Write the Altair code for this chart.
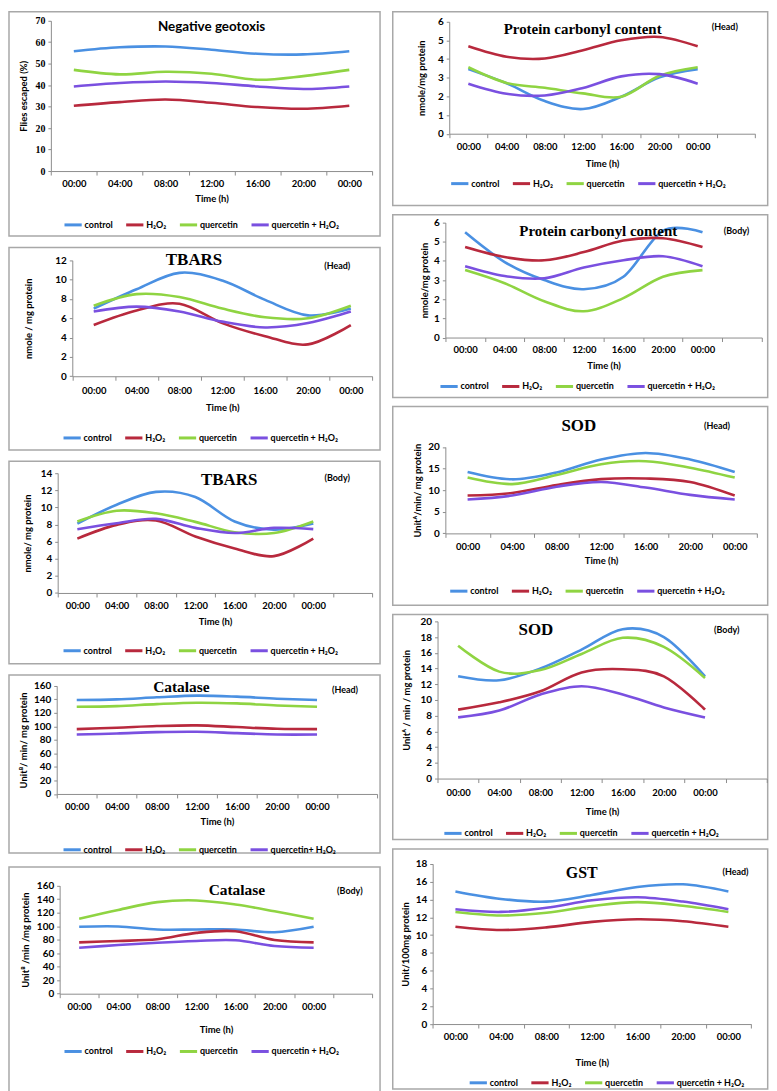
import altair as alt
import pandas as pd

# ---------------- data ----------------
TIME_LABELS = ["00:00", "04:00", "08:00", "12:00", "16:00", "20:00", "00:00"]
SERIES = ["control", "H\u2082O\u2082", "quercetin", "quercetin + H\u2082O\u2082"]
SERIES_CAT_HEAD = ["control", "H\u2082O\u2082", "quercetin", "quercetin+ H\u2082O\u2082"]
COLORS = ["#4a90e2", "#b8293d", "#8fd442", "#7a50e0"]

GEO_CONTROL = [55.8, 57.6, 58.0, 56.5, 54.6, 54.3, 55.8]
GEO_H2O2 = [30.4, 32.1, 33.3, 31.8, 29.8, 29.0, 30.4]
GEO_QUER = [47.1, 45.0, 46.2, 45.3, 42.5, 44.2, 47.1]
GEO_QH = [39.4, 41.0, 41.7, 41.0, 39.4, 38.2, 39.4]

TBH_CONTROL = [7.0, 9.0, 10.7, 9.9, 7.9, 6.3, 7.0]
TBH_H2O2 = [5.3, 6.8, 7.5, 5.5, 4.15, 3.3, 5.3]
TBH_QUER = [7.3, 8.5, 8.2, 7.0, 6.1, 6.0, 7.3]
TBH_QH = [6.7, 7.2, 6.7, 5.65, 5.05, 5.5, 6.7]

TBB_CONTROL = [8.1, 10.3, 11.8, 11.2, 8.35, 7.4, 8.1]
TBB_H2O2 = [6.35, 7.95, 8.45, 6.6, 5.2, 4.3, 6.35]
TBB_QUER = [8.35, 9.6, 9.3, 8.3, 7.1, 7.0, 8.35]
TBB_QH = [7.45, 8.15, 8.65, 7.6, 7.0, 7.6, 7.45]

CATH_CONTROL = [139, 140, 143, 145.5, 144, 141, 139]
CATH_H2O2 = [96, 98, 100.5, 101.5, 99, 96.5, 96]
CATH_QUER = [129, 130, 133, 135, 134, 131, 129]
CATH_QH = [88, 89.5, 91.5, 92, 90, 88, 88]

CATB_CONTROL = [99, 99.5, 95, 95, 95, 91, 99]
CATB_H2O2 = [76, 78, 80.5, 90, 92.5, 79.5, 76]
CATB_QUER = [111, 124, 135.5, 138, 132, 122, 111]
CATB_QH = [68, 72, 75.5, 78, 79, 70.5, 68]

PCH_CONTROL = [3.46, 2.7, 1.75, 1.32, 1.98, 3.02, 3.46]
PCH_H2O2 = [4.68, 4.12, 4.03, 4.47, 5.0, 5.18, 4.68]
PCH_QUER = [3.56, 2.72, 2.46, 2.16, 1.98, 3.1, 3.56]
PCH_QH = [2.68, 2.14, 2.05, 2.45, 3.07, 3.19, 2.68]

PCB_CONTROL = [5.49, 3.94, 3.0, 2.52, 3.17, 5.57, 5.49]
PCB_H2O2 = [4.72, 4.2, 4.03, 4.46, 5.06, 5.18, 4.72]
PCB_QUER = [3.52, 2.83, 1.89, 1.37, 2.06, 3.17, 3.52]
PCB_QH = [3.72, 3.21, 3.09, 3.65, 4.03, 4.24, 3.72]

SODH_CONTROL = [14.2, 12.5, 14.1, 17.1, 18.6, 17.1, 14.2]
SODH_H2O2 = [8.75, 9.35, 11.2, 12.55, 12.7, 11.9, 8.75]
SODH_QUER = [12.9, 11.4, 13.5, 16.0, 16.7, 15.2, 12.9]
SODH_QH = [7.83, 8.75, 10.8, 11.9, 10.6, 8.9, 7.83]

SODB_CONTROL = [13.0, 12.5, 14.0, 16.4, 19.0, 18.0, 13.0]
SODB_H2O2 = [8.77, 9.7, 11.1, 13.5, 13.9, 13.0, 8.77]
SODB_QUER = [16.9, 13.6, 13.8, 15.85, 17.9, 16.75, 12.8]
SODB_QH = [7.78, 8.65, 10.7, 11.75, 10.7, 9.05, 7.78]

GST_CONTROL = [14.9, 14.06, 13.76, 14.5, 15.4, 15.7, 14.9]
GST_H2O2 = [10.93, 10.56, 10.86, 11.48, 11.78, 11.56, 10.93]
GST_QUER = [12.6, 12.2, 12.5, 13.25, 13.7, 13.3, 12.6]
GST_QH = [12.9, 12.6, 13.07, 13.9, 14.25, 13.76, 12.9]

GEO_YTICKS = [0, 10, 20, 30, 40, 50, 60, 70]
TBH_YTICKS = [0, 2, 4, 6, 8, 10, 12]
TBB_YTICKS = [0, 2, 4, 6, 8, 10, 12, 14]
CAT_YTICKS = [0, 20, 40, 60, 80, 100, 120, 140, 160]
PC_YTICKS = [0, 1, 2, 3, 4, 5, 6]
SODH_YTICKS = [0, 5, 10, 15, 20]
SODB_YTICKS = [0, 2, 4, 6, 8, 10, 12, 14, 16, 18, 20]
GST_YTICKS = [0, 2, 4, 6, 8, 10, 12, 14, 16, 18]

# ---------------- style / layout ----------------
SANS = "Lato"
SERIF = "Liberation Serif"
SX = 0.979
SY = 0.988
AXIS_GREY = "#8c8c8c"
FRAME_GREY = "#a8a8a8"
LEG_W = 270


def make_panel(L, names, values, yticks):
    fx1, fy1, fx2, fy2 = L["frame"]
    px1, py1, px2, py2 = L["plot"]
    WF = (fx2 - fx1) * SX
    HF = (fy2 - fy1) * SY

    def rx(v):
        return (v - fx1) * SX

    def ry(v):
        return (v - fy1) * SY

    rows = []
    for name, vals in zip(names, values):
        for i, v in enumerate(vals):
            rows.append({"idx": i, "series": name, "value": v})
    df = pd.DataFrame(rows)

    nb = L["bands"]
    labels = TIME_LABELS + [""] * (nb - len(TIME_LABELS))
    label_expr = "[" + ",".join("'%s'" % t for t in labels) + "][datum.value]"

    x0, x1 = rx(px1), rx(px2)
    yb, yt = ry(py2), ry(py1)

    lcx, lcy = L["legend"]
    lines = alt.Chart(df).mark_line(interpolate="cardinal", strokeWidth=2.6).encode(
        x=alt.X(
            "idx:O",
            bandPosition=0.5,
            scale=alt.Scale(type="band", domain=list(range(nb)), range=[x0, x1],
                            paddingInner=0, paddingOuter=0),
            axis=alt.Axis(
                title="Time (h)", labelExpr=label_expr, tickBand="extent", labelAngle=0,
                labelBaseline="middle", labelPadding=ry(L["xlab"]) - yb - 4, tickSize=4,
                offset=-(HF - yb),
                domainColor=AXIS_GREY, tickColor=AXIS_GREY, labelColor="black",
                labelFont=SANS, labelFontWeight="bold", labelFontSize=9.5,
                titleFont=SANS, titleFontWeight="bold", titleFontSize=9.5, titleColor="black",
                titleX=(x0 + x1) / 2, titleY=ry(L["xtitle"]) - yb, titleBaseline="middle",
                titleAlign="center", grid=False, labelOverlap=False,
            ),
        ),
        y=alt.Y(
            "value:Q",
            scale=alt.Scale(domain=[0, yticks[-1]], nice=False, range=[yb, yt]),
            axis=alt.Axis(
                values=yticks, title=L["ytitle"][0], offset=-x0,
                titleX=rx(L["ytitle"][1]) - x0, titleY=(yb + yt) / 2,
                titleBaseline="middle", titleAlign="center", titleAngle=270,
                titleFont=SANS, titleFontWeight="bold",
                titleFontSize=9.5, titleColor="black",
                labelFont=L.get("ylabfont", SANS), labelFontWeight="bold", labelFontSize=10,
                labelColor="black", tickSize=3, labelPadding=3,
                domainColor=AXIS_GREY, tickColor=AXIS_GREY, grid=False,
            ),
        ),
        color=alt.Color(
            "series:N",
            scale=alt.Scale(domain=names, range=COLORS),
            legend=alt.Legend(
                orient="none", legendX=rx(lcx) - LEG_W / 2, legendY=ry(lcy) - 8,
                direction="horizontal", title=None, symbolType="stroke",
                symbolStrokeWidth=3, symbolSize=300, labelFont=SANS,
                labelFontWeight="bold", labelFontSize=9, labelColor="black",
                columnPadding=6, labelOffset=1, padding=0,
            ),
        ),
    )

    layers = [lines]
    t, tcx, tcy, tfont, tsize = L["title"]
    layers.append(
        alt.Chart(pd.DataFrame({"t": [t]})).mark_text(
            font=tfont, fontSize=tsize, fontWeight="bold", align="center",
            baseline="middle", color="black"
        ).encode(text="t:N", x=alt.value(rx(tcx)), y=alt.value(ry(tcy)))
    )
    if L.get("tag"):
        g, gx, gy = L["tag"]
        layers.append(
            alt.Chart(pd.DataFrame({"t": [g]})).mark_text(
                font=SANS, fontSize=9, fontWeight="bold", align="center",
                baseline="middle", color="black"
            ).encode(text="t:N", x=alt.value(rx(gx)), y=alt.value(ry(gy)))
        )
    return alt.layer(*layers).properties(width=WF, height=HF)


LEFT = [
    (dict(frame=(0, 1, 381, 229), plot=(43, 10, 373, 163), bands=7,
          title=("Negative geotoxis", 208, 16, SANS, 13.5), tag=None,
          ytitle=("Flies escaped (%)", 15), xlab=176, xtitle=191, legend=(193, 215),
          ylabfont=SERIF),
     SERIES, [GEO_CONTROL, GEO_H2O2, GEO_QUER, GEO_QH], GEO_YTICKS),
    (dict(frame=(0, 238, 381, 444), plot=(65, 251, 373, 369), bands=7,
          title=("TBARS", 190, 251, SERIF, 17), tag=("(Head)", 337, 257),
          ytitle=("nmole / mg protein", 20), xlab=384, xtitle=401, legend=(192, 429)),
     SERIES, [TBH_CONTROL, TBH_H2O2, TBH_QUER, TBH_QH], TBH_YTICKS),
    (dict(frame=(0, 453, 381, 659), plot=(50, 465, 373, 587), bands=8,
          title=("TBARS", 226, 472, SERIF, 17), tag=("(Body)", 337, 470),
          ytitle=("nmole/ mg protein", 19), xlab=600, xtitle=616, legend=(192, 643)),
     SERIES, [TBB_CONTROL, TBB_H2O2, TBB_QUER, TBB_QH], TBB_YTICKS),
    (dict(frame=(0, 668, 381, 849), plot=(49, 679, 378, 789), bands=8,
          title=("Catalase", 177, 680, SERIF, 15.5), tag=("(Head)", 345, 683),
          ytitle=("Unit\u1d2e/ min/ mg protein", 15), xlab=802, xtitle=817, legend=(192, 843)),
     SERIES_CAT_HEAD, [CATH_CONTROL, CATH_H2O2, CATH_QUER, CATH_QH], CAT_YTICKS),
    (dict(frame=(0, 858, 381, 1089), plot=(52, 877, 373, 987), bands=8,
          title=("Catalase", 234, 882, SERIF, 15.5), tag=("(Body)", 350, 883),
          ytitle=("Unit\u1d2e /min /mg protein", 17), xlab=1000, xtitle=1023, legend=(193, 1043)),
     SERIES, [CATB_CONTROL, CATB_H2O2, CATB_QUER, CATB_QH], CAT_YTICKS),
]

RIGHT = [
    (dict(frame=(392, 1, 777, 198), plot=(450, 11, 764, 125), bands=8,
          title=("Protein carbonyl content", 587, 18, SERIF, 15), tag=("(Head)", 733, 16),
          ytitle=("nmole/mg protein", 422), xlab=138, xtitle=155, legend=(588, 173)),
     SERIES, [PCH_CONTROL, PCH_H2O2, PCH_QUER, PCH_QH], PC_YTICKS),
    (dict(frame=(392, 205, 777, 391), plot=(446, 213, 771, 330), bands=8,
          title=("Protein carbonyl content", 603, 222, SERIF, 15), tag=("(Body)", 745, 222),
          ytitle=("nmole/mg protein", 425), xlab=342, xtitle=358, legend=(577, 377)),
     SERIES, [PCB_CONTROL, PCB_H2O2, PCB_QUER, PCB_QH], PC_YTICKS),
    (dict(frame=(392, 398, 777, 600), plot=(446, 439, 766, 527), bands=7,
          title=("SOD", 583, 418, SERIF, 17), tag=("(Head)", 725, 418),
          ytitle=("Unit\u1d2c/min/ mg protein", 417), xlab=540, xtitle=555, legend=(587, 583)),
     SERIES, [SODH_CONTROL, SODH_H2O2, SODH_QUER, SODH_QH], SODH_YTICKS),
    (dict(frame=(392, 607, 777, 836), plot=(438, 614, 776, 774), bands=8,
          title=("SOD", 539, 623, SERIF, 17), tag=("(Body)", 735, 623),
          ytitle=("Unit\u1d2c / min / mg protein", 406), xlab=788, xtitle=808, legend=(581, 827)),
     SERIES, [SODB_CONTROL, SODB_H2O2, SODB_QUER, SODB_QH], SODB_YTICKS),
    (dict(frame=(392, 843, 777, 1087), plot=(433, 858, 760, 1021), bands=7,
          title=("GST", 586, 867, SERIF, 16), tag=("(Head)", 744, 866),
          ytitle=("Unit/100mg protein", 405), xlab=1034, xtitle=1060, legend=(607, 1078)),
     SERIES, [GST_CONTROL, GST_H2O2, GST_QUER, GST_QH], GST_YTICKS),
]

left_col = alt.vconcat(
    *[make_panel(*p) for p in LEFT], spacing=9 * SY
).resolve_scale(color="independent")
right_col = alt.vconcat(
    *[make_panel(*p) for p in RIGHT], spacing=7 * SY
).resolve_scale(color="independent")

chart = (
    alt.hconcat(left_col, right_col, spacing=11 * SX)
    .resolve_scale(color="independent")
    .properties(padding=0, background="white")
    .configure_view(stroke=FRAME_GREY, strokeWidth=1.5)
)

chart.save("out.html", embed_options={"renderer": "svg", "actions": False})
